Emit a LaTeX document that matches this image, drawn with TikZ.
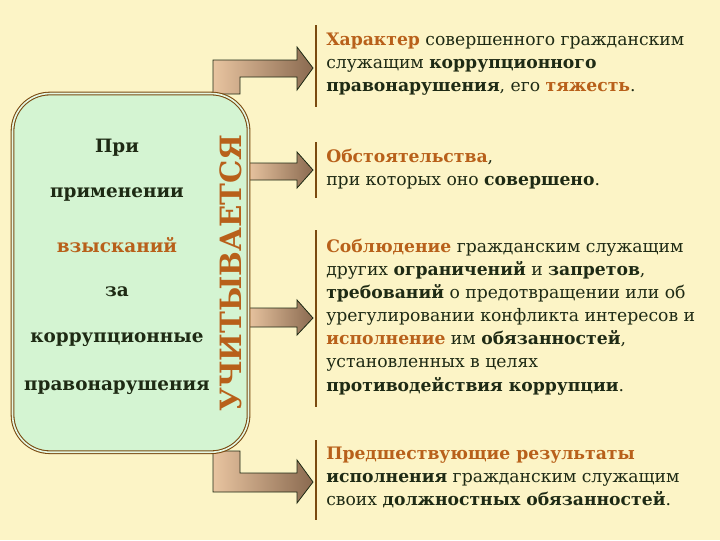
\documentclass[tikz,border=0pt]{standalone}
\usepackage{fontspec}
\setmainfont{DejaVu Serif}
\definecolor{bg}{HTML}{FCF4C6}
\definecolor{boxf}{HTML}{D4F4D2}
\definecolor{brd}{HTML}{7A4A10}
\definecolor{org}{HTML}{B8601A}
\definecolor{dk}{HTML}{1E2A14}
\definecolor{arl}{HTML}{E8C4A0}
\definecolor{ard}{HTML}{8A6A50}
\newcommand{\hl}[1]{\textcolor{org}{\textbf{#1}}}
\begin{document}
\begin{tikzpicture}[x=0.75pt,y=-0.75pt,
 txt/.style={anchor=north west,align=left,font=\fontsize{12.9}{17.3}\selectfont,text=dk,inner sep=0pt},
 lft/.style={font=\fontsize{13.8}{16}\selectfont\bfseries,text=dk},
 arr/.style={left color=arl,right color=ard,draw=dk,line width=0.6pt},
 bar/.style={draw=brd,line width=1.5pt}]
\fill[bg] (0,0) rectangle (720,540);
\useasboundingbox (0,0) rectangle (720,540);
% arrows
\draw[arr] (213,94) -- (213,60) -- (297,60) -- (297,47) -- (313,68) -- (297,90) -- (297,77) -- (240,77) -- (240,94) -- cycle;
\draw[arr] (213,451) -- (213,492) -- (297,492) -- (297,503) -- (313,482) -- (297,460) -- (297,473) -- (240,473) -- (240,451) -- cycle;
\draw[arr] (248,163) -- (297,163) -- (297,152) -- (313,170) -- (297,188) -- (297,180) -- (248,180) -- cycle;
\draw[arr] (248,308) -- (297,308) -- (297,300) -- (313,318) -- (297,335) -- (297,327) -- (248,327) -- cycle;
% box
\node[draw=brd,double=boxf!60!white,double distance=1.2pt,line width=0.8pt,fill=boxf,rounded corners=28pt,minimum width=177pt,minimum height=269pt,anchor=north west,inner sep=0pt] (box) at (12,93) {};
\node[lft] (l1) at (117,148) {При};
\node[lft] (l2) at (117,195) {применении};
\node[lft,text=org] (l3) at (117,245) {взысканий};
\node[lft] (l4) at (117,292) {за};
\node[lft] (l5) at (117,340) {коррупционные};
\node[lft] (l6) at (117,388) {правонарушения};
\node[rotate=90,font=\fontsize{22}{24}\selectfont\bfseries,text=org,inner sep=0pt] (uch) at (231,273) {УЧИТЫВАЕТСЯ};
% bars
\draw[bar] (316,25) -- (316,107);
\draw[bar] (316,142) -- (316,198);
\draw[bar] (316,230) -- (316,407);
\draw[bar] (316,440) -- (316,520);
\node[txt] (t1) at (326,33) {\hl{Характер} совершенного гражданским\\служащим \textbf{коррупционного}\\\textbf{правонарушения}, его \hl{тяжесть}.};
\node[txt] (t2) at (326,149) {\hl{Обстоятельства},\\при которых оно \textbf{совершено}.};
\node[txt] (t3) at (326,239) {\hl{Соблюдение} гражданским служащим\\других \textbf{ограничений} и \textbf{запретов},\\\textbf{требований} о предотвращении или об\\урегулировании конфликта интересов и\\\hl{исполнение} им \textbf{обязанностей},\\установленных в целях\\\textbf{противодействия коррупции}.};
\node[txt] (t4) at (326,447) {\hl{Предшествующие результаты}\\\textbf{исполнения} гражданским служащим\\своих \textbf{должностных обязанностей}.};
\end{tikzpicture}
\end{document}
